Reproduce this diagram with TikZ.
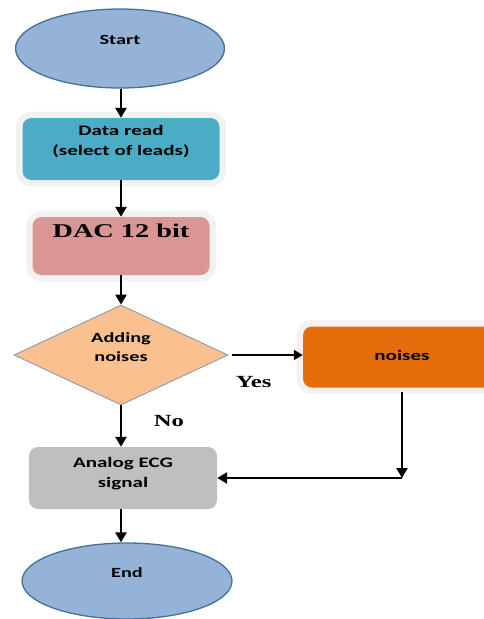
\documentclass[tikz,border=0pt]{standalone}
\usepackage{fontspec}
\usepackage{xcolor}
\usepackage{tikz}
\usetikzlibrary{positioning,arrows.meta,shapes}
\newfontfamily\flowfont[FakeStretch=1.45]{Carlito}
\newfontfamily\flowserif[FakeStretch=1.45]{Liberation Serif}
\definecolor{termblue}{HTML}{95B3D7}
\definecolor{termline}{HTML}{41719C}
\definecolor{readteal}{HTML}{4BACC6}
\definecolor{dacrose}{HTML}{D99694}
\definecolor{decpeach}{HTML}{FAC090}
\definecolor{decline}{HTML}{8093B3}
\definecolor{noiseorange}{HTML}{E46C0A}
\definecolor{analoggray}{HTML}{BFBFBF}
\tikzset{
  term/.style  ={ellipse, draw=termline, line width=1.3pt, fill=termblue, inner sep=0pt,
                 font=\flowfont\bfseries\fontsize{14}{20}\selectfont},
  proc/.style  ={rectangle, rounded corners=9pt, inner sep=0pt, align=center,
                 font=\flowfont\bfseries\fontsize{14.5}{20}\selectfont},
  halo/.style  ={preaction={draw=black!5, line width=13pt}},
  decide/.style={diamond, draw=decline, line width=0.8pt, fill=decpeach, aspect=2.14,
                 inner sep=0pt, align=center,
                 font=\flowfont\bfseries\fontsize{14}{19}\selectfont},
  lbl/.style   ={font=\flowserif\bfseries\fontsize{17}{20}\selectfont},
  arrow/.style ={-{Triangle[width=11pt,length=10pt]}, line width=2.8pt},
  thinarrow/.style={-{Triangle[width=10pt,length=9pt]}, line width=2pt}
}
\begin{document}
\begin{tikzpicture}[x=1pt, y=-1pt]
    \useasboundingbox (0,0) rectangle (483,619);
    % main column
    \node[term, minimum width=209pt, minimum height=79pt, text depth=18pt] (start) at (120,48.5) {Start};
    \node[proc, halo, fill=readteal, minimum width=197pt, minimum height=62pt, text depth=17pt] (read) at (121,149) {Data read\\(select of leads)};
    \node[proc, halo, fill=dacrose, minimum width=177pt, minimum height=58pt, text depth=31pt,
          font=\flowserif\bfseries\fontsize{19.5}{22}\selectfont] (dac) at (121,246) {DAC 12 bit};
    \node[decide, minimum width=214pt, minimum height=100pt, text depth=15pt] (add) at (121,355) {Adding\\noises};
    \node[proc, fill=analoggray, minimum width=188pt, minimum height=62pt, text depth=11pt] (analog) at (123,478) {Analog ECG\\signal};
    \node[term, minimum width=210pt, minimum height=76pt, text depth=17.5pt] (end) at (127,581) {End};
    % noise branch
    \node[proc, halo, fill=noiseorange, minimum width=198pt, minimum height=61pt, text depth=3pt] (noises) at (402,357) {noises};
    \coordinate (bend) at (402,478);
    % arrows
    \draw[arrow] (start.south -| read) -- (read.north);
    \draw[arrow] (read.south) -- (dac.north);
    \draw[arrow] (dac.south) -- (add.north);
    \draw[thinarrow, shorten <=4pt] (add.east) -- node[lbl, pos=0.34, yshift=-27pt] (yes) {Yes} (add.east -| noises.west);
    \draw[arrow] (add.south) -- node[lbl, pos=0.38, xshift=48pt] (no) {No} (add.south |- analog.north);
    \draw[arrow, shorten <=4pt] (noises) -- (bend);
    \draw[arrow] (bend) -- (analog);
    \draw[arrow] (analog.south -| add) -- (add |- end.north);
\end{tikzpicture}
\end{document}
